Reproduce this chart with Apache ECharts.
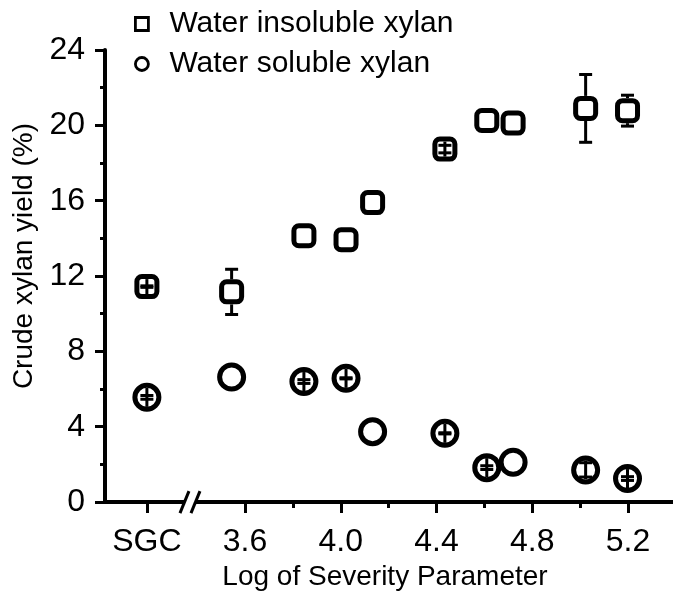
<!DOCTYPE html>
<html><head><meta charset="utf-8">
<script src="https://cdn.jsdelivr.net/npm/echarts@6/dist/echarts.min.js"></script>
<style>html,body{margin:0;padding:0;background:#fff}#c{width:673px;height:596px}</style>
</head><body><div id="c"></div>
<script>
// Data
const xValues      = [3.19, 3.544, 3.846, 4.022, 4.133, 4.435, 4.61, 4.72, 5.023, 5.198];
const insoluble    = [11.44, 11.16, 14.14, 13.93, 15.9, 18.74, 20.26, 20.12, 20.9, 20.78];
const insolubleErr = [0.04, 1.2, 0, 0, 0, 0.2, 0, 0, 1.8, 0.82];
const soluble      = [5.56, 6.64, 6.40, 6.57, 3.74, 3.65, 1.83, 2.12, 1.71, 1.25];
const solubleErr   = [0.1, 0, 0.1, 0.03, 0, 0.03, 0.1, 0, 0.38, 0.1];
const xTickValues  = [3.19, 3.6, 4.0, 4.4, 4.8, 5.2];
const xTickLabels  = ['SGC', '3.6', '4.0', '4.4', '4.8', '5.2'];
const xMinorTicks  = [3.8, 4.2, 4.6, 5.0];
const xBreakAt     = 3.37;

const FONT = 'Liberation Sans, Arial, sans-serif';
const chart = echarts.init(document.getElementById('c'), null, {renderer: 'canvas'});

function errBarItem(innerHalf, outerHalf) {
  return function (params, api) {
    const x = api.value(0), y = api.value(1), e = api.value(2);
    if (!e) return null;
    const c = api.coord([x, y]);
    const t = api.coord([x, y + e]);
    const b = api.coord([x, y - e]);
    const st = {stroke: '#000', lineWidth: 3};
    const kids = [];
    const d = c[1] - t[1];
    let cap = 6.5;
    if (d < innerHalf) {
      cap = Math.min(cap, innerHalf - 1);
      kids.push({type: 'line', shape: {x1: c[0], y1: c[1] - innerHalf, x2: c[0], y2: c[1] + innerHalf}, style: st});
    } else {
      kids.push({type: 'line', shape: {x1: c[0], y1: t[1], x2: c[0], y2: c[1] - outerHalf}, style: st});
      kids.push({type: 'line', shape: {x1: c[0], y1: c[1] + outerHalf, x2: c[0], y2: b[1]}, style: st});
    }
    kids.push({type: 'line', shape: {x1: c[0] - cap, y1: t[1], x2: c[0] + cap, y2: t[1]}, style: st});
    kids.push({type: 'line', shape: {x1: c[0] - cap, y1: b[1], x2: c[0] + cap, y2: b[1]}, style: st});
    return {type: 'group', children: kids};
  };
}

const insData = xValues.map((x, i) => [x, insoluble[i]]);
const solData = xValues.map((x, i) => [x, soluble[i]]);
const insErrData = xValues.map((x, i) => [x, insoluble[i], insolubleErr[i]]);
const solErrData = xValues.map((x, i) => [x, soluble[i], solubleErr[i]]);

const axisCommon = {
  axisLine: {show: true, onZero: false, lineStyle: {color: '#000', width: 4}},
  splitLine: {show: false}
};

const option = {
  animation: false,
  backgroundColor: '#fff',
  grid: {left: 105, right: 0, top: 50, bottom: 86, containLabel: false},
  legend: {
    orient: 'vertical', left: 129, top: 4, itemGap: 10,
    itemWidth: 13, itemHeight: 13,
    textStyle: {fontSize: 30, fontFamily: FONT, color: '#000', padding: [0, 0, 0, 16]},
    data: [
      {name: 'Water insoluble xylan', icon: 'rect', itemStyle: {color: '#fff', borderColor: '#000', borderWidth: 2.8}},
      {name: 'Water soluble xylan', icon: 'circle', itemStyle: {color: '#fff', borderColor: '#000', borderWidth: 2.8}}
    ]
  },
  xAxis: [
    Object.assign({}, axisCommon, {
      type: 'value', min: 3.015, max: 5.388, position: 'bottom',
      name: 'Log of Severity Parameter', nameLocation: 'middle', nameGap: 60,
      nameTextStyle: {fontSize: 28, fontFamily: FONT, color: '#000', padding: [0, 8, 0, 0]},
      axisTick: {show: true, length: 11, lineStyle: {color: '#000', width: 3}, customValues: xTickValues},
      axisLabel: {show: true, fontSize: 32, fontFamily: FONT, color: '#000', margin: 24,
        customValues: xTickValues,
        formatter: function (v) { const i = xTickValues.findIndex(t => Math.abs(t - v) < 1e-6); return i >= 0 ? xTickLabels[i] : ''; }}
    }),
    {
      type: 'value', min: 3.015, max: 5.388, position: 'bottom',
      axisLine: {show: false, onZero: false}, splitLine: {show: false},
      axisTick: {show: true, length: 6, lineStyle: {color: '#000', width: 3}, customValues: xMinorTicks},
      axisLabel: {show: false}
    }
  ],
  yAxis: Object.assign({}, axisCommon, {
    type: 'value', min: 0, max: 24, interval: 4,
    name: 'Crude xylan yield (%)', nameLocation: 'middle', nameGap: 66,
    nameTextStyle: {fontSize: 28, fontFamily: FONT, color: '#000', padding: [0, 0, 0, 40]},
    axisTick: {show: true, length: 10, lineStyle: {color: '#000', width: 3}},
    minorTick: {show: true, splitNumber: 2, length: 5, lineStyle: {color: '#000', width: 3}},
    axisLabel: {fontSize: 32, fontFamily: FONT, color: '#000', margin: 20}
  }),
  series: [
    {name: 'Water insoluble xylan', type: 'scatter', data: insData, symbol: 'roundRect', symbolSize: 20,
      itemStyle: {color: '#fff', borderColor: '#000', borderWidth: 5, opacity: 1}, z: 2},
    {name: 'Water soluble xylan', type: 'scatter', data: solData, symbol: 'circle', symbolSize: 24,
      itemStyle: {color: '#fff', borderColor: '#000', borderWidth: 5, opacity: 1}, z: 2},
    {name: 'insErr', type: 'custom', data: insErrData, renderItem: errBarItem(7.5, 12.5), encode: {x: 0, y: 1}, z: 3, silent: true},
    {name: 'solErr', type: 'custom', data: solErrData, renderItem: errBarItem(9.5, 14.5), encode: {x: 0, y: 1}, z: 3, silent: true}
  ]
};
chart.setOption(option);

// axis break marks
const bp = chart.convertToPixel({xAxisIndex: 0, yAxisIndex: 0}, [xBreakAt, 0]);
chart.setOption({
  graphic: [
    {type: 'rect', shape: {x: bp[0] - 5, y: bp[1] - 3, width: 10, height: 6}, style: {fill: '#fff'}, z: 100},
    {type: 'line', shape: {x1: bp[0] - 10, y1: bp[1] + 11, x2: bp[0] - 1, y2: bp[1] - 11}, style: {stroke: '#000', lineWidth: 3}, z: 101},
    {type: 'line', shape: {x1: bp[0] + 1, y1: bp[1] + 11, x2: bp[0] + 10, y2: bp[1] - 11}, style: {stroke: '#000', lineWidth: 3}, z: 101}
  ]
});
</script></body></html>
